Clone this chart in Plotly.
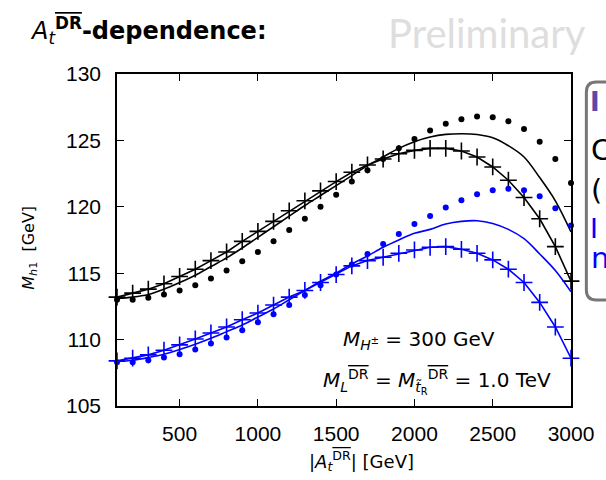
import plotly.graph_objects as go

# ---------------- data ----------------
at_values = [100, 200, 300, 400, 500, 600, 700, 800, 900, 1000,
             1100, 1200, 1300, 1400, 1500, 1600, 1700, 1800, 1900, 2000,
             2100, 2200, 2300, 2400, 2500, 2600, 2700, 2800, 2900, 3000]

black_dots = [113.0, 113.0, 113.15, 113.4, 113.7, 114.1, 114.6, 115.2, 115.9, 116.6,
              117.4, 118.25, 119.1, 120.0, 120.9, 121.9, 122.75, 123.6, 124.4, 125.1,
              125.75, 126.25, 126.6, 126.8, 126.75, 126.45, 125.85, 124.9, 123.6, 121.8]

black_crosses = [113.2, 113.5, 113.8, 114.2, 114.75, 115.3, 115.95, 116.6, 117.4, 118.15,
                 118.9, 119.7, 120.45, 121.2, 121.9, 122.6, 123.15, 123.6, 124.0, 124.25,
                 124.4, 124.4, 124.2, 123.75, 123.0, 122.0, 120.7, 119.1, 117.0, 114.4]

black_line = [113.1, 113.2, 113.4, 113.8, 114.3, 114.85, 115.5, 116.15, 116.9, 117.7,
              118.5, 119.3, 120.1, 120.85, 121.6, 122.35, 123.1, 123.75, 124.4, 124.9,
              125.25, 125.45, 125.5, 125.45, 125.2, 124.6, 123.75, 122.2, 120.45, 118.1]

blue_dots = [108.3, 108.3, 108.45, 108.65, 108.9, 109.25, 109.7, 110.15, 110.7, 111.3,
             111.9, 112.6, 113.35, 114.1, 114.9, 115.65, 116.45, 117.2, 117.95, 118.7,
             119.3, 119.95, 120.5, 120.95, 121.25, 121.35, 121.25, 120.8, 119.9, 118.6]

blue_crosses = [108.4, 108.6, 108.85, 109.2, 109.6, 110.05, 110.5, 110.95, 111.5, 112.0,
                112.6, 113.2, 113.7, 114.3, 114.9, 115.55, 115.95, 116.2, 116.5, 116.75,
                116.95, 117.0, 116.8, 116.5, 116.0, 115.3, 114.3, 112.8, 110.95, 108.6]

blue_line = [108.35, 108.45, 108.65, 108.9, 109.25, 109.65, 110.1, 110.6, 111.1, 111.7,
             112.3, 113.0, 113.7, 114.4, 115.0, 115.7, 116.3, 116.95, 117.5, 118.0,
             118.3, 118.7, 118.9, 118.95, 118.75, 118.3, 117.6, 116.45, 115.2, 113.6]

x_ticks = [500, 1000, 1500, 2000, 2500, 3000]
y_ticks = [105, 110, 115, 120, 125, 130]

# ---------------- layout geometry (pixels) ----------------
W, H = 606, 480
L, R, T, B = 117, 575, 74, 406


def px(x):
    return (x - L) / (R - L)


def py(y):
    return (B - y) / (B - T)


BLACK = "#000000"
BLUE = "#0000ff"
MATHFONT = "DejaVu Sans"
TICKFONT = "Liberation Sans"
OL = '<span style="text-decoration:overline">DR</span>'

fig = go.Figure()

# black series
fig.add_trace(go.Scatter(x=at_values, y=black_dots, mode="markers",
                         marker=dict(symbol="circle", size=6, color=BLACK),
                         showlegend=False, cliponaxis=False))
fig.add_trace(go.Scatter(x=at_values, y=black_line, mode="lines",
                         line=dict(color=BLACK, width=1.6, shape="spline"),
                         showlegend=False))
fig.add_trace(go.Scatter(x=at_values, y=black_crosses, mode="lines+markers",
                         line=dict(color=BLACK, width=1.6),
                         marker=dict(symbol="cross-thin", size=12,
                                     line=dict(color=BLACK, width=1.6)),
                         showlegend=False, cliponaxis=False))
# blue series
fig.add_trace(go.Scatter(x=at_values, y=blue_dots, mode="markers",
                         marker=dict(symbol="circle", size=6, color=BLUE),
                         showlegend=False, cliponaxis=False))
fig.add_trace(go.Scatter(x=at_values, y=blue_line, mode="lines",
                         line=dict(color=BLUE, width=1.6, shape="spline"),
                         showlegend=False))
fig.add_trace(go.Scatter(x=at_values, y=blue_crosses, mode="lines+markers",
                         line=dict(color=BLUE, width=1.6),
                         marker=dict(symbol="cross-thin", size=12,
                                     line=dict(color=BLUE, width=1.6)),
                         showlegend=False, cliponaxis=False))

axis_common = dict(showline=True, linecolor=BLACK, linewidth=1.5, mirror="ticks",
                   ticks="inside", ticklen=7, tickwidth=1.2, tickcolor=BLACK,
                   showgrid=False, zeroline=False,
                   tickfont=dict(family=TICKFONT, size=21, color=BLACK))

fig.update_xaxes(range=[100, 3000], tickvals=x_ticks,
                 ticktext=[str(v) for v in x_ticks], ticklabelstandoff=8,
                 **axis_common)
fig.update_yaxes(range=[105, 130], tickvals=y_ticks,
                 ticktext=[str(v) for v in y_ticks], ticklabelstandoff=10,
                 **axis_common)

annotations = []


def ann(text, x, y, size, color=BLACK, family=MATHFONT, xanchor="left",
        yanchor="middle", textangle=0):
    annotations.append(dict(text=text, x=px(x), y=py(y), xref="paper", yref="paper",
                            xanchor=xanchor, yanchor=yanchor, showarrow=False,
                            textangle=textangle,
                            font=dict(family=family, size=size, color=color)))


# title and preliminary
ann("<i>A</i><sub><i>t</i></sub><sup><b>" + OL + "</b></sup><b>-dependence:</b>",
    27, 31, 24)
ann("Preliminary", 592, 33, 40, color="#dedede", family="Lato", xanchor="right")

# axis titles
ann("|<i>A</i><sub><i>t</i></sub><sup>" + OL + "</sup>| [GeV]", 364, 461, 18,
    xanchor="center")
ann("<i>M</i><sub><i>h</i>1</sub>  [GeV]", 28, 248, 16, xanchor="center",
    textangle=-90)

# in-plot labels
ann("<i>M</i><sub><i>H</i><sup>±</sup></sub> = 300 GeV", 422, 340, 20,
    xanchor="center")
ann("<i>M</i><sub><i>L</i></sub><sup>" + OL + "</sup> = <i>M</i><sub><i>t̃</i><sub>R</sub></sub><sup>"
    + OL + "</sup> = 1.0 TeV", 440, 381, 20, xanchor="center")

# right-hand box text (cut off by the page edge)
ann("<b>I</b>", 592, 102, 26, color="#5a4aa8")
ann("C", 593, 150, 29)
ann("(", 593, 190, 29)
ann("I", 592, 228, 27, color=BLUE)
ann("n", 593, 258, 29, color=BLUE)

# rounded box on the right
bx0, by0, by1, bx1, r = 590.5, 82, 300, 650, 10
path = (f"M {px(bx1)},{py(by0)} L {px(bx0 + r)},{py(by0)} "
        f"Q {px(bx0)},{py(by0)} {px(bx0)},{py(by0 + r)} "
        f"L {px(bx0)},{py(by1 - r)} Q {px(bx0)},{py(by1)} {px(bx0 + r)},{py(by1)} "
        f"L {px(bx1)},{py(by1)}")
fig.add_shape(type="path", path=path, xref="paper", yref="paper",
              line=dict(color="#777777", width=3))

fig.update_layout(width=W, height=H,
                  margin=dict(l=L, r=W - R, t=T, b=H - B),
                  paper_bgcolor="white", plot_bgcolor="white",
                  annotations=annotations, showlegend=False)

fig.write_html("out.html", config={"displayModeBar": False},
               post_script="document.body.style.margin='0';document.body.style.overflow='hidden';")
